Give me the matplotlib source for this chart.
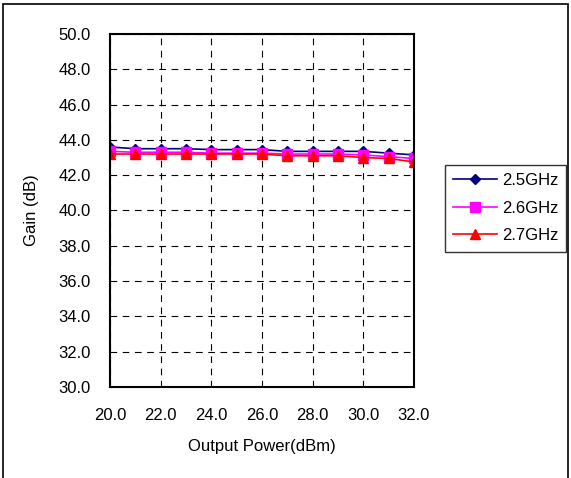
import matplotlib
matplotlib.use("Agg")
import matplotlib.pyplot as plt
from matplotlib.patches import Rectangle

plt.rcParams['font.family'] = ['Liberation Sans', 'DejaVu Sans']

power = [20, 21, 22, 23, 24, 25, 26, 27, 28, 29, 30, 31, 32]
gain_25 = [43.6, 43.5, 43.5, 43.5, 43.45, 43.45, 43.45, 43.35, 43.35, 43.35, 43.35, 43.25, 43.15]
gain_26 = [43.35, 43.3, 43.3, 43.3, 43.25, 43.25, 43.25, 43.2, 43.2, 43.2, 43.15, 43.05, 42.95]
gain_27 = [43.2, 43.2, 43.2, 43.2, 43.2, 43.2, 43.2, 43.1, 43.1, 43.1, 43.0, 42.95, 42.75]
labels = ['2.5GHz', '2.6GHz', '2.7GHz']
xticks = [20, 22, 24, 26, 28, 30, 32]
yticks = [30, 32, 34, 36, 38, 40, 42, 44, 46, 48, 50]

W, H = 571, 478
fig = plt.figure(figsize=(W / 100, H / 100), dpi=100)
fig.patches.append(Rectangle((3 / W, -0.01), (568 - 3) / W, 1.01 - 4 / H, transform=fig.transFigure,
                             fill=False, edgecolor='black', linewidth=1.2))

ax = fig.add_axes([110 / W, 1 - 387 / H, (414 - 110) / W, (387 - 34) / H])
ax.plot(power, gain_25, color='#000080', marker='D', markersize=5.5, linewidth=1.2, label=labels[0])
ax.plot(power, gain_26, color='#FF00FF', marker='s', markersize=6.5, linewidth=1.2, label=labels[1])
ax.plot(power, gain_27, color='#FF0000', marker='^', markersize=7.5, linewidth=1.2, label=labels[2])

ax.set_xlim(20, 32)
ax.set_ylim(30, 50)
ax.set_xticks(xticks)
ax.set_xticklabels([f'{v:.1f}' for v in xticks])
ax.set_yticks(yticks)
ax.set_yticklabels([f'{v:.1f}' for v in yticks])
ax.tick_params(axis='y', length=0, labelsize=12, pad=14)
ax.tick_params(axis='x', length=0, labelsize=12, pad=15)
ax.grid(True, color='black', linestyle=(0, (6, 5)), linewidth=0.8)
for s in ax.spines.values():
    s.set_linewidth(1.5)
ax.set_xlabel('Output Power(dBm)', fontsize=12, labelpad=12)
ax.set_ylabel('Gain (dB)', fontsize=12, labelpad=14)

leg = fig.legend(loc='upper left', bbox_to_anchor=(445 / W, 1 - 165 / H), fontsize=12,
                 frameon=True, fancybox=False, edgecolor='black', handlelength=2.6,
                 borderpad=0.5, labelspacing=0.75, handletextpad=0.3, borderaxespad=0)
leg.get_frame().set_linewidth(1.0)

fig.savefig('out.png', dpi=100)
